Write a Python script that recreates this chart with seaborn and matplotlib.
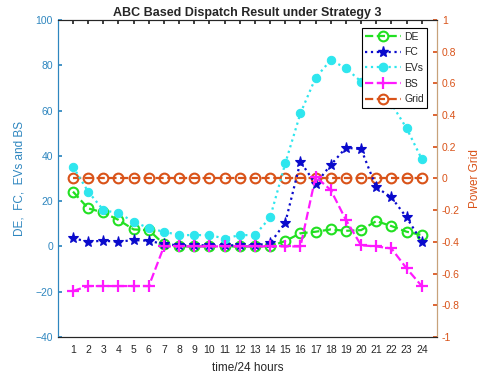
import numpy as np
import matplotlib
matplotlib.use('Agg')
import matplotlib.pyplot as plt
import seaborn as sns
from matplotlib.lines import Line2D

# values
hours = list(range(1, 25))
de = [24.2, 16.8, 15.0, 11.7, 7.5, 7.2, 1.0, 0, 0, 0, 0, 0, 0, 0,
      2.4, 5.8, 6.5, 7.5, 6.9, 7.2, 11.2, 9.0, 6.5, 5.0]
fc = [3.6, 2.1, 2.5, 2.1, 2.8, 2.5, 1.0, 0.5, 0.5, 0.5, 0.5, 0.5, 0.5, 1.4,
      10.5, 37.4, 27.6, 36.0, 43.6, 43.0, 26.1, 21.7, 12.8, 2.1]
evs = [35.2, 24.2, 16.1, 14.6, 11.0, 8.0, 6.5, 5.0, 5.0, 5.0, 3.5, 5.0, 5.0, 12.8,
       36.7, 58.8, 74.5, 82.3, 78.7, 72.8, 68.0, 63.0, 52.2, 38.6]
bs = [-19.7, -17.5, -17.5, -17.5, -17.5, -17.5, 0, 0, 0, 0, 0, 0, 0, 0,
      0, 0, 30.8, 24.9, 11.7, 0.5, 0, -0.9, -9.7, -17.5]
grid = [0] * 24

left_ticks = [-40, -20, 0, 20, 40, 60, 80, 100]
right_ticks = [-1, -0.8, -0.6, -0.4, -0.2, 0, 0.2, 0.4, 0.6, 0.8, 1]
right_labels = ['-1', '-0.8', '-0.6', '-0.4', '-0.2', '0', '0.2', '0.4', '0.6', '0.8', '1']

sns.set_theme(style='white')
plt.rcParams['font.family'] = ['Liberation Sans', 'DejaVu Sans']

c_left = '#2E86BF'
c_right = '#D95319'
c_green = '#22E022'
c_blue = '#0A0ACC'
c_cyan = '#2EE6EE'
c_mag = '#FF1AFF'

fig = plt.figure(figsize=(4.86, 3.81), dpi=100)
ax = fig.add_axes([0.119, 0.1155, 0.780, 0.832])
ax2 = ax.twinx()

sns.lineplot(x=hours, y=grid, ax=ax2, color=c_right, ls='--', lw=1.6, marker='o',
             markersize=7, markerfacecolor='none', markeredgecolor=c_right, markeredgewidth=1.5)
sns.lineplot(x=hours, y=de, ax=ax, color=c_green, ls='--', lw=1.6, marker='o',
             markersize=7, markerfacecolor='none', markeredgecolor=c_green, markeredgewidth=1.5)
sns.lineplot(x=hours, y=fc, ax=ax, color=c_blue, ls=':', lw=1.6, marker='*',
             markersize=8, markerfacecolor=c_blue, markeredgecolor=c_blue, markeredgewidth=0.8)
sns.lineplot(x=hours, y=evs, ax=ax, color=c_cyan, ls=':', lw=1.6, marker='o',
             markersize=6, markerfacecolor=c_cyan, markeredgecolor=c_cyan)
sns.lineplot(x=hours, y=bs, ax=ax, color=c_mag, ls='--', lw=1.6, marker='+',
             markersize=8, markeredgecolor=c_mag, markeredgewidth=1.6)

# left axis drawn above the twin so its lines sit on top of the Grid circles
ax.set_zorder(ax2.get_zorder() + 1)
ax.patch.set_visible(False)

ax.set_xlim(0, 25)
ax.set_ylim(-40, 100)
ax2.set_ylim(-1, 1)
ax.set_xticks(hours)
ax.set_yticks(left_ticks)
ax2.set_yticks(right_ticks)
ax2.set_yticklabels(right_labels)

ax.tick_params(axis='x', direction='in', top=True, length=3, labelsize=7.5,
               colors='#262626', pad=6)
ax.tick_params(axis='y', direction='in', length=3, labelsize=7.5, colors=c_left)
ax2.tick_params(axis='y', direction='in', length=3, labelsize=7.5, colors=c_right)

for a in (ax, ax2):
    for s in ['top', 'bottom']:
        a.spines[s].set_color('#262626')
        a.spines[s].set_linewidth(0.8)
    a.spines['left'].set_color(c_left)
    a.spines['right'].set_color('#C8A27A')
    a.spines['left'].set_linewidth(0.8)
    a.spines['right'].set_linewidth(0.8)

ax.set_xlabel('time/24 hours', fontsize=8.5, color='#262626', labelpad=5)
ax.set_ylabel('DE,  FC,  EVs and BS', fontsize=8.5, color=c_left, labelpad=7)
ax2.set_ylabel('Power Grid', fontsize=8.5, color=c_right, labelpad=7)
ax.set_title('ABC Based Dispatch Result under Strategy 3', fontsize=9,
             fontweight='bold', pad=3)

handles = [
    Line2D([], [], color=c_green, ls='--', lw=1.6, marker='o', markersize=7,
           markerfacecolor='none', markeredgewidth=1.5),
    Line2D([], [], color=c_blue, ls=':', lw=1.6, marker='*', markersize=8),
    Line2D([], [], color=c_cyan, ls=':', lw=1.6, marker='o', markersize=6),
    Line2D([], [], color=c_mag, ls='--', lw=1.6, marker='+', markersize=8,
           markeredgewidth=1.6),
    Line2D([], [], color=c_right, ls='--', lw=1.6, marker='o', markersize=7,
           markerfacecolor='none', markeredgewidth=1.5),
]
leg = ax.legend(handles, ['DE', 'FC', 'EVs', 'BS', 'Grid'], loc='upper right',
                bbox_to_anchor=(0.975, 0.975), fontsize=7.5, frameon=True,
                fancybox=False, edgecolor='black', framealpha=1,
                handlelength=3.4, handletextpad=0.3, labelspacing=0.55,
                borderpad=0.35, borderaxespad=0)
leg.get_frame().set_linewidth(0.8)

fig.savefig('out.png', dpi=100)
